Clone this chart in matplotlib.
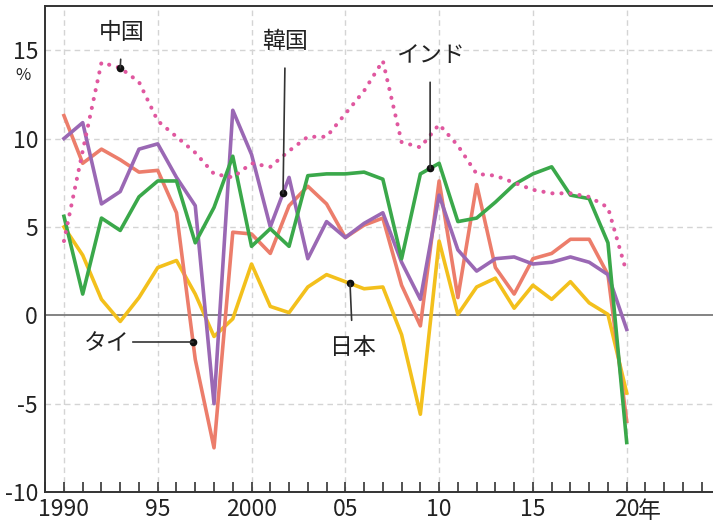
import numpy as np
import matplotlib.pyplot as plt
from matplotlib.ticker import MultipleLocator, FixedLocator

plt.rcParams['font.family'] = ['Noto Sans CJK JP', 'DejaVu Sans']

# 実質GDP成長率（%）
years = list(range(1990, 2021))
china = [4.2, 9.3, 14.3, 14.0, 13.2, 11.0, 10.1, 9.2, 8.0, 7.8,
         8.6, 8.4, 9.3, 10.1, 10.1, 11.4, 12.7, 14.4, 9.8, 9.5,
         10.8, 9.6, 8.0, 7.9, 7.5, 7.1, 6.9, 6.9, 6.7, 6.1, 2.4]
korea = [10.0, 10.9, 6.3, 7.0, 9.4, 9.7, 7.8, 6.2, -5.0, 11.6,
         9.1, 5.0, 7.8, 3.2, 5.3, 4.4, 5.2, 5.8, 3.0, 0.9,
         6.8, 3.7, 2.5, 3.2, 3.3, 2.9, 3.0, 3.3, 3.0, 2.3, -0.8]
india = [5.6, 1.2, 5.5, 4.8, 6.7, 7.6, 7.6, 4.1, 6.1, 9.0,
         3.9, 4.9, 3.9, 7.9, 8.0, 8.0, 8.1, 7.7, 3.2, 8.0,
         8.6, 5.3, 5.5, 6.4, 7.4, 8.0, 8.4, 6.8, 6.6, 4.1, -7.2]
thai = [11.3, 8.6, 9.4, 8.8, 8.1, 8.2, 5.8, -2.5, -7.5, 4.7,
        4.6, 3.5, 6.2, 7.3, 6.3, 4.4, 5.1, 5.5, 1.7, -0.6,
        7.6, 1.0, 7.4, 2.7, 1.2, 3.2, 3.5, 4.3, 4.3, 2.3, -6.0]
japan = [5.0, 3.4, 0.9, -0.35, 1.0, 2.7, 3.1, 1.2, -1.2, -0.2,
         2.9, 0.5, 0.15, 1.6, 2.3, 1.9, 1.5, 1.6, -1.1, -5.6,
         4.2, 0.05, 1.6, 2.1, 0.4, 1.7, 0.9, 1.9, 0.7, 0.05, -4.4]

x_labels = ['1990', '95', '2000', '05', '10', '15', '20']
y_ticks = [-10, -5, 0, 5, 10, 15]

c_china = '#e0579f'
c_korea = '#9a68b4'
c_india = '#3aa84a'
c_thai = '#ec7d6b'
c_japan = '#f3c01c'

fig = plt.figure(figsize=(7.13, 5.24), dpi=100)
ax = fig.add_axes([45 / 713, 32 / 524, 668 / 713, 486 / 524])
ax.set_xlim(1988.99, 2024.6)
ax.set_ylim(-10, 17.5)

# グリッド
for gx in range(1990, 2021, 5):
    ax.axvline(gx, color='#d4d4d4', lw=1, ls=(0, (4, 3)), zorder=0)
for gy in [-5, 5, 10, 15]:
    ax.axhline(gy, color='#d4d4d4', lw=1, ls=(0, (4, 3)), zorder=0)
ax.axhline(0, color='#7a7a7a', lw=1.3, zorder=1)

lw = 2.6
ax.plot(years, japan, color=c_japan, lw=lw, zorder=2)
ax.plot(years, thai, color=c_thai, lw=lw, zorder=3)
ax.plot(years, korea, color=c_korea, lw=lw, zorder=4)
ax.plot(years, india, color=c_india, lw=lw, zorder=5)
ax.plot(years, china, color=c_china, lw=2.9, ls=(0, (0.05, 2.2)),
        dash_capstyle='round', zorder=6)

# 軸
for s in ['left', 'bottom', 'top']:
    ax.spines[s].set_color('#333333')
    ax.spines[s].set_linewidth(1.4)
ax.spines['right'].set_visible(False)

ax.xaxis.set_major_locator(FixedLocator(list(range(1990, 2021, 5))))
ax.xaxis.set_minor_locator(MultipleLocator(1))
ax.set_xticklabels(x_labels)
ax.tick_params(axis='x', which='both', direction='in', length=7, width=1.2,
               color='#333333', labelsize=16.5, pad=4, labelcolor='#222222')
ax.set_yticks(y_ticks)
ax.set_yticklabels([str(v) for v in y_ticks])
ax.tick_params(axis='y', length=0, labelsize=16.5, pad=5, labelcolor='#222222')

ax.annotate('年', xy=(2020, 0), xycoords=('data', 'axes fraction'),
            xytext=(8, -6), textcoords='offset points', fontsize=16.5,
            color='#222222', va='top', ha='left')
ax.text(-0.021, 13.55, '%', transform=ax.get_yaxis_transform(), fontsize=12,
        ha='right', va='center', color='#222222')


def label(name, x, series, tx, ty):
    y = np.interp(x, years, series)
    ax.plot([x], [y], 'o', color='#111111', ms=4.5, zorder=8)
    ax.annotate(name, xy=(x, y), xytext=(tx, ty), fontsize=16.5, color='#222222',
                ha='center', va='center', zorder=8,
                arrowprops=dict(arrowstyle='-', color='#333333', lw=1.2,
                                shrinkA=9, shrinkB=0))


label('中国', 1993.0, china, 1993.1, 16.0)
label('韓国', 2001.68, korea, 2001.8, 15.5)
label('インド', 2009.52, india, 2009.52, 14.7)
label('日本', 2005.25, japan, 2005.4, -1.8)

# タイ（横の引き出し線）
yt = np.interp(1996.88, years, thai)
ax.plot([1996.88], [yt], 'o', color='#111111', ms=4.5, zorder=8)
ax.plot([1993.7, 1996.88], [yt, yt], color='#333333', lw=1.2, zorder=8)
ax.text(1993.5, yt - 0.1, 'タイ', fontsize=16.5, color='#222222',
        ha='right', va='center', zorder=8)

fig.savefig('out.png', dpi=100)
